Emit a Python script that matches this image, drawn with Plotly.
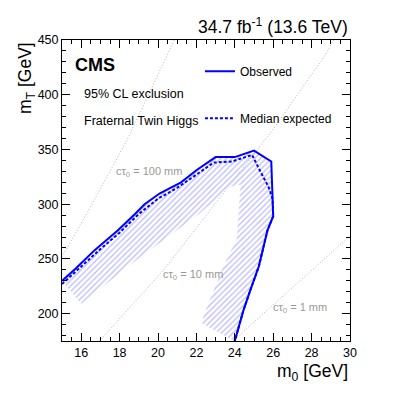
import plotly.graph_objects as go

# Observed 95% CL exclusion contour (m0 [GeV], mT [GeV])
obs_m0 = [15.0, 15.7, 16.7, 17.9, 18.8, 19.3, 20.1, 21.2, 22.0, 23.0, 24.0, 25.0, 25.9, 26.0, 25.7, 25.25, 24.8, 24.45, 24.0]
obs_mT = [230, 241, 258, 276, 291, 300, 310, 320, 331, 343, 343, 349, 339, 289, 276, 243, 221, 203, 175]

# Median expected contour
exp_m0 = [15.0, 16.0, 17.0, 18.0, 19.0, 20.0, 21.0, 22.0, 22.9, 23.85, 24.9, 25.3, 25.75, 25.97, 26.0, 25.7, 25.25, 24.8, 24.45, 24.0]
exp_mT = [227, 243, 259, 274, 291, 305, 315, 327, 338, 339, 345, 331, 316, 305, 289, 276, 243, 221, 203, 175]

# Inner edge of the hatched (excluded-side) band
hatch_m0 = [22.3, 22.35, 23.4, 24.1, 24.3, 23.75, 22.2, 20.5, 18.5, 16.0]
hatch_mT = [191, 197, 243, 268, 318, 316, 292, 270, 244, 209]

# Iso-lifetime curves
ct100_m0 = [15.0, 16.5, 18.4, 20.85]
ct100_mT = [252, 298, 359, 450]
ct10_m0 = [16.95, 20.3, 23.67, 25.9, 28.7, 29.15]
ct10_mT = [175, 240, 316, 366, 436, 450]
ct1_m0 = [23.9, 26.9, 28.0, 29.0, 30.0]
ct1_mT = [175, 222, 240, 255, 271]

FONT = "Liberation Sans, Arial, Helvetica, sans-serif"
BLUE = "#0000ff"
GREY = "#a0a0a0"

fig = go.Figure()

# hatched band
band_x = obs_m0 + hatch_m0
band_y = obs_mT + hatch_mT
fig.add_trace(go.Scatter(
    x=band_x, y=band_y, mode="lines", fill="toself",
    line=dict(width=0, color="rgba(0,0,0,0)"),
    fillcolor="rgba(0,0,0,0)",
    fillpattern=dict(shape="/", fgcolor="rgba(90,90,255,0.85)", bgcolor="rgba(0,0,0,0)",
                     size=4, solidity=0.3),
    showlegend=False, hoverinfo="skip"))

for xs, ys in [(ct100_m0, ct100_mT), (ct10_m0, ct10_mT), (ct1_m0, ct1_mT)]:
    fig.add_trace(go.Scatter(x=xs, y=ys, mode="lines",
                             line=dict(color=GREY, width=0.8, dash="1px,2px"),
                             showlegend=False, hoverinfo="skip"))

fig.add_trace(go.Scatter(x=obs_m0, y=obs_mT, mode="lines", name="Observed",
                         line=dict(color=BLUE, width=2), legendgroup="a"))
fig.add_trace(go.Scatter(x=exp_m0, y=exp_mT, mode="lines", name="Median expected",
                         line=dict(color=BLUE, width=2, dash="3px,2px"), legendgroup="b"))

ann = []
ann.append(dict(text="<b>CMS</b>", xref="paper", yref="paper", x=0.038, y=0.917,
                xanchor="left", yanchor="middle", showarrow=False,
                font=dict(size=18, family=FONT, color="black")))
ann.append(dict(text="95% CL exclusion", xref="paper", yref="paper", x=0.068, y=0.820,
                xanchor="left", yanchor="middle", showarrow=False,
                font=dict(size=12.5, family=FONT, color="black")))
ann.append(dict(text="Fraternal Twin Higgs", xref="paper", yref="paper", x=0.068, y=0.731,
                xanchor="left", yanchor="middle", showarrow=False,
                font=dict(size=12.5, family=FONT, color="black")))
ann.append(dict(text="34.7 fb<sup>-1</sup> (13.6 TeV)", xref="paper", yref="paper", x=1.0, y=1.046,
                xanchor="right", yanchor="middle", showarrow=False,
                font=dict(size=17.5, family=FONT, color="black")))
ann.append(dict(text="m<sub>0</sub> [GeV]", xref="paper", yref="paper", x=1.0, y=-0.103,
                xanchor="right", yanchor="middle", showarrow=False,
                font=dict(size=17.5, family=FONT, color="black")))
ann.append(dict(text="m<sub>T</sub> [GeV]", xref="paper", yref="paper", x=-0.125, y=1.0,
                xanchor="center", yanchor="top", textangle=-90, showarrow=False,
                font=dict(size=17.5, family=FONT, color="black")))
for t, x, y in [("cτ<sub>0</sub> = 100 mm", 19.53, 329.3),
                ("cτ<sub>0</sub> = 10 mm", 21.82, 235.2),
                ("cτ<sub>0</sub> = 1 mm", 27.4, 205.2)]:
    ann.append(dict(text=t, x=x, y=y, xref="x", yref="y", showarrow=False,
                    xanchor="center", yanchor="middle",
                    font=dict(size=11, family=FONT, color="#999999")))

axis_common = dict(ticks="inside", mirror="allticks", showline=True, linecolor="black",
                   linewidth=1, tickcolor="black", ticklen=8, tickwidth=1,
                   showgrid=False, zeroline=False,
                   tickfont=dict(size=12.5, family=FONT, color="black"))

fig.update_layout(
    width=391, height=380,
    margin=dict(l=54, r=49, t=32, b=47),
    paper_bgcolor="white", plot_bgcolor="white",
    font=dict(family=FONT, color="black"),
    xaxis=dict(range=[15, 30], tick0=0, dtick=2,
               minor=dict(ticks="inside", ticklen=4, dtick=0.5, tickcolor="black"),
               **axis_common),
    yaxis=dict(range=[175, 450], tick0=0, dtick=50,
               minor=dict(ticks="inside", ticklen=4, dtick=10, tickcolor="black"),
               **axis_common),
    legend=dict(x=0.479, y=0.944, xanchor="left", yanchor="top",
                bgcolor="rgba(0,0,0,0)", tracegroupgap=28,
                font=dict(size=12, family=FONT, color="black")),
    annotations=ann,
    showlegend=True,
)

fig.write_html("out.html")
